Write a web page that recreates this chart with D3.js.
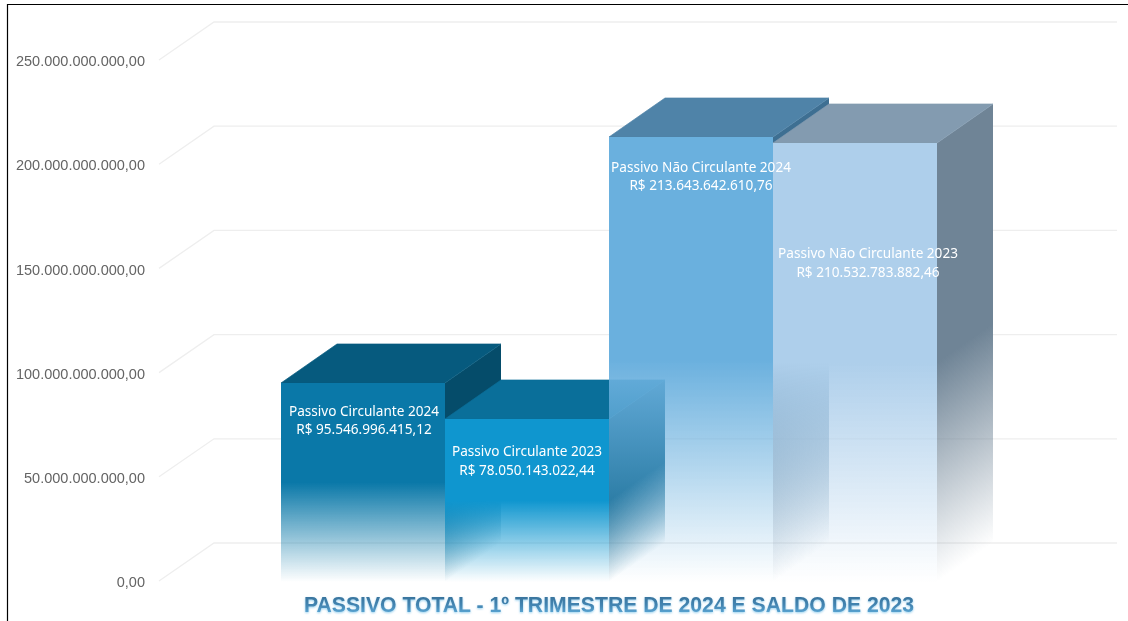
<!DOCTYPE html>
<html><head><meta charset="utf-8">
<script src="https://cdn.jsdelivr.net/npm/d3@7"></script>
<style>html,body{margin:0;padding:0;background:#fff}svg{display:block;filter:blur(0.35px)}</style>
</head><body><svg id="c" width="1128" height="621"></svg>
<script>
const categories = ["Passivo Circulante 2024","Passivo Circulante 2023","Passivo Não Circulante 2024","Passivo Não Circulante 2023"];
const values = [95546996415.12, 78050143022.44, 213643642610.76, 210532783882.46];
const tickValues = [0, 50e9, 100e9, 150e9, 200e9, 250e9];
const chartTitle = "PASSIVO TOTAL - 1º TRIMESTRE DE 2024 E SALDO DE 2023";
const frontColors = ["#0a78a8","#0f96cf","#6ab0de","#aecfeb"];
const topColors = ["#065a7e","#0a6f9a","#4f83a8","#839bb0"];
const sideColors = ["#054c6a","#0a6187","#3e6f92","#6f8496"];
// hand-placed data labels: pixel shift from bar centre / bar top
const labelShiftX = [1, 0, 10, 13];
const labelShiftY = [29, 33, 31, 111];

const W = 1128, H = 621, depthX = 56, depthY = 39;
const svg = d3.select("#c");
const y = d3.scaleLinear().domain([0, 250e9]).range([582, 61]);
const x = d3.scaleBand().domain(categories).range([281, 937]);
const pt = d3.formatLocale({decimal:",",thousands:".",grouping:[3],currency:["R$ ",""]});
const fmt = pt.format(",.2f");
const bw = x.bandwidth();
const defs = svg.append("defs");

function fade(id, color){
  const g = defs.append("linearGradient").attr("id", id).attr("x1",0).attr("y1",0).attr("x2",0).attr("y2",1);
  g.append("stop").attr("offset","0").attr("stop-color",color).attr("stop-opacity",1);
  g.append("stop").attr("offset","0.5").attr("stop-color",color).attr("stop-opacity",1);
  g.append("stop").attr("offset","1").attr("stop-color",color).attr("stop-opacity",0);
}
categories.forEach((c,i)=>{ fade("f"+i, frontColors[i]); fade("s"+i, sideColors[i]); });
const tg = defs.append("linearGradient").attr("id","tg").attr("x1",0).attr("y1",0).attr("x2",0).attr("y2",1);
tg.append("stop").attr("offset","0").attr("stop-color","#356d94");
tg.append("stop").attr("offset","0.55").attr("stop-color","#4486b3");
tg.append("stop").attr("offset","1").attr("stop-color","#62b2e0");
const glow = defs.append("filter").attr("id","glow").attr("x","-5%").attr("y","-30%").attr("width","110%").attr("height","170%");
glow.append("feDropShadow").attr("dx",0).attr("dy",1).attr("stdDeviation",1).attr("flood-color","#7fc4ea").attr("flood-opacity",0.8);

// gridlines on wall and side wall
const grid = svg.append("g").attr("fill","none").attr("stroke","#eeeeee").attr("stroke-width",1.3);
grid.selectAll("path").data(tickValues).join("path")
  .attr("d", d => `M159,${y(d)-1}L${159+depthX-1},${y(d)-depthY}H1117`);

// y axis labels
const axis = d3.axisLeft(y).tickValues(tickValues).tickSize(0).tickPadding(0).tickFormat(fmt);
const ax = svg.append("g").attr("transform","translate(145,0)").call(axis);
ax.select(".domain").remove();
ax.selectAll("text").attr("font-family","'Liberation Sans',Arial,sans-serif").attr("font-size",14.5).attr("fill","#646464");

// bars: back to front, left to right
const bars = svg.append("g").selectAll("g").data(categories).join("g");
bars.each(function(c,i){
  const g = d3.select(this), x0 = x(c), x1 = x0 + bw, t = Math.round(y(values[i])), b = y(0), k = -depthY/depthX;
  // side face is sheared so its fade runs along the depth direction
  g.append("rect").attr("x",x1).attr("y",t).attr("width",depthX).attr("height",b-t)
    .attr("transform",`matrix(1,${k},0,1,0,${-k*x1})`).attr("fill",`url(#s${i})`);
  g.append("path").attr("d",`M${x0},${t}L${x0+depthX},${t-depthY}H${x1+depthX}L${x1},${t}Z`)
    .attr("fill",topColors[i]).attr("stroke",topColors[i]).attr("stroke-width",0.7);
  g.append("rect").attr("x",x0).attr("y",t).attr("width",bw).attr("height",b-t).attr("fill",`url(#f${i})`);
});

// data labels
const labels = svg.append("g").attr("font-family","'Noto Sans',sans-serif").attr("font-size",13.6).attr("fill","#fff").attr("text-anchor","middle");
categories.forEach((c,i)=>{
  const cx = x(c)+bw/2+labelShiftX[i], t = y(values[i])+labelShiftY[i];
  labels.append("text").attr("x",cx).attr("y",t+4).text(c);
  labels.append("text").attr("x",cx).attr("y",t+22.5).text("R$ "+fmt(values[i]));
});

// title
svg.append("text").attr("x",609).attr("y",612).attr("text-anchor","middle")
  .attr("font-family","'Liberation Sans',Arial,sans-serif").attr("font-weight","bold").attr("font-size",21.2)
  .attr("fill","url(#tg)").attr("filter","url(#glow)").text(chartTitle);

// frame of the screenshot
svg.append("path").attr("d",`M7.5,${H}V4.5H${W}`).attr("fill","none").attr("stroke","#000").attr("stroke-width",1.2);
</script></body></html>
